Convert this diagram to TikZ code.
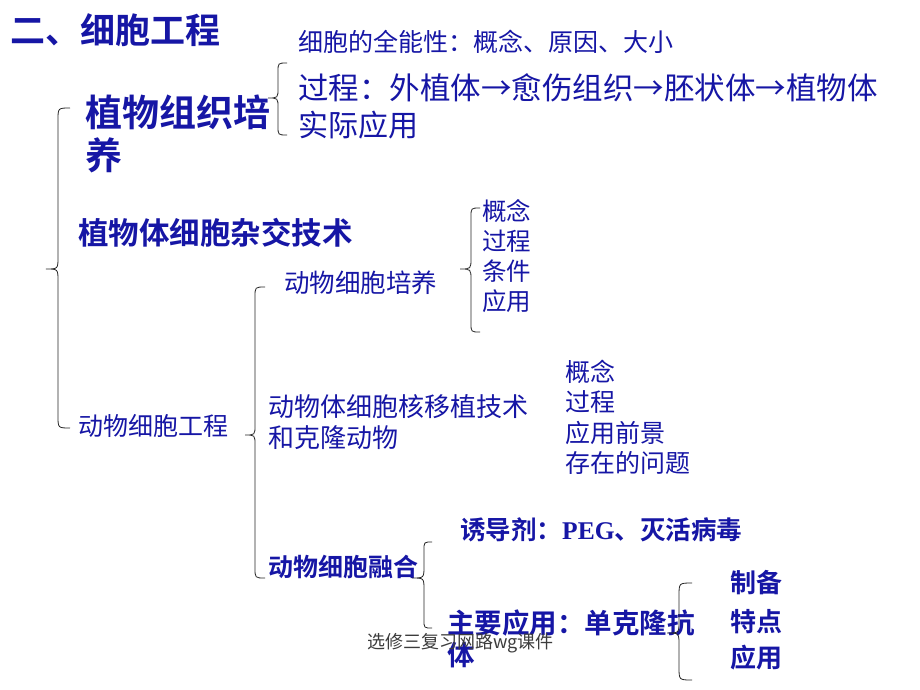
\documentclass[tikz,border=0pt]{standalone}
\usepackage{fontspec}
\newfontfamily\cjk{Noto Sans CJK SC}[BoldFont={Noto Sans CJK SC Bold}]
\newfontfamily\latinb{Liberation Serif}
\definecolor{ink}{RGB}{22,22,165}
\definecolor{foot}{RGB}{60,60,60}
\newcommand{\mybrace}[6]{%
  \draw[bracepath] (#1,#4) .. controls (#2,#4) .. (#2,{#4+(#1-#2)})
    -- (#2,{#5-(#2-#3)}) .. controls (#2,#5) .. (#3,#5)
    .. controls (#2,#5) .. (#2,{#5+(#2-#3)})
    -- (#2,{#6-(#1-#2)}) .. controls (#2,#6) .. (#1,#6);}
\tikzset{
  txt/.style={anchor=west, inner sep=0pt, text=ink, font=\cjk\fontsize{#1}{#1}\selectfont},
  btxt/.style={anchor=west, inner sep=0pt, text=ink, font=\cjk\bfseries\fontsize{#1}{#1}\selectfont},
  bracepath/.style={draw=black!85, line width=0.8pt}
}
\begin{document}
\begin{tikzpicture}[x=1pt,y=-1pt]
\useasboundingbox[fill=white] (0,0) rectangle (920,690);
% titles
\node[btxt=35] (title) at (10,30) {二、细胞工程};
\node[txt=25] (tot) at (298,42) {细胞的全能性：概念、原因、大小};
\node[txt=30.5] (proc) at (298,88) {过程：外植体→愈伤组织→胚状体→植物体};
\node[txt=30] (app) at (298,125) {实际应用};
\node[btxt=37] (plant1) at (85,112) {植物组织培};
\node[btxt=37] (plant2) at (85,155) {养};
\node[btxt=30.5] (hybrid) at (78,233) {植物体细胞杂交技术};
\node[txt=25] (animal) at (78,426) {动物细胞工程};
\node[txt=25.5] (culture) at (284,283) {动物细胞培养};
\node[txt=24.5] (c1) at (482,211) {概念};
\node[txt=24.5] (c2) at (482,241) {过程};
\node[txt=24.5] (c3) at (482,271) {条件};
\node[txt=24.5] (c4) at (482,301) {应用};
\node[txt=26] (nt1) at (268,407) {动物体细胞核移植技术};
\node[txt=26] (nt2) at (268,438) {和克隆动物};
\node[txt=25] (n1) at (565,372) {概念};
\node[txt=25] (n2) at (565,402) {过程};
\node[txt=25] (n3) at (565,433) {应用前景};
\node[txt=25] (n4) at (565,463) {存在的问题};
\node[btxt=25] (fusion) at (268,567) {动物细胞融合};
\node[btxt=25.5] (induce) at (460,530) {诱导剂：{\latinb\bfseries PEG}、灭活病毒};
\node[btxt=27.5] (main1) at (447,623) {主要应用：单克隆抗};
\node[btxt=27.5] (main2) at (447,655) {体};
\node[btxt=26] (m1) at (730,583) {制备};
\node[btxt=26] (m2) at (730,622) {特点};
\node[btxt=26] (m3) at (730,658) {应用};
% braces
\mybrace{70}{58}{46}{108}{269}{428}
\mybrace{287}{278}{268}{63}{98}{135}
\mybrace{265}{255}{245}{287}{435}{578}
\mybrace{480}{471}{460}{208}{269}{332}
\mybrace{432}{424}{412}{542}{578}{628}
\mybrace{692}{679}{667}{583}{633}{680}
% footer
\node[anchor=west, inner sep=0pt, text=foot, font=\cjk\fontsize{18}{18}\selectfont] (footer) at (367,643) {选修三复习网路wg课件};
\end{tikzpicture}
\end{document}
